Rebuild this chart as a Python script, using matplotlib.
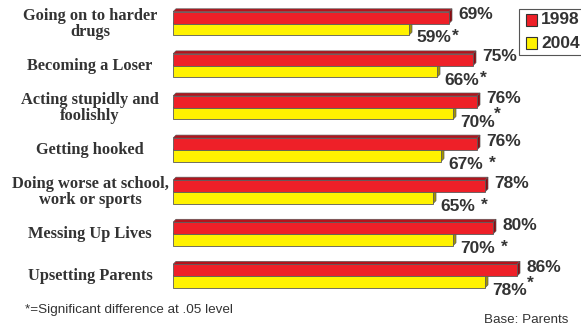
import matplotlib
matplotlib.use("Agg")
import matplotlib.pyplot as plt
from matplotlib.patches import Polygon, Rectangle

categories = [
    "Going on to harder\ndrugs",
    "Becoming a Loser",
    "Acting stupidly and\nfoolishly",
    "Getting hooked",
    "Doing worse at school,\nwork or sports",
    "Messing Up Lives",
    "Upsetting Parents",
]
values_1998 = [69, 75, 76, 76, 78, 80, 86]
values_2004 = [59, 66, 70, 67, 65, 70, 78]
# how the significance star follows each 2004 label
star_style = ["tight", "tight", "raised", "spaced", "spaced", "spaced", "super"]
series_names = ["1998", "2004"]

RED, RED_TOP, RED_SIDE = "#ee2028", "#b5121b", "#8e0a10"
YEL, YEL_TOP, YEL_SIDE = "#fff200", "#c9be00", "#a39500"
EDGE = "#5a5a5a"
TXT = "#333333"

W, H = 581, 329
fig = plt.figure(figsize=(W / 100, H / 100), dpi=100)
fig.patch.set_facecolor("white")

# axes: 0 % sits at x=173px, 4 px per percent; group rows 42.1 px apart
x0_px, px_per = 173, 4.0
row0_px, row_px = 23.5, 42.1
ax = fig.add_axes([x0_px / W, 0, 100 * px_per / W, 1])
ax.set_xlim(0, 100)
ax.set_ylim((H - row0_px) / row_px, -row0_px / row_px)
ax.axis("off")

bh = 11.7 / row_px          # bar thickness in row units
dx = 3 / px_per             # 3-D depth, horizontal
dy = 3 / row_px             # 3-D depth, vertical


def bar3d(y_top, val, face, top, side):
    ax.barh(y_top, val, height=bh, align="edge", color=face,
            edgecolor=EDGE, linewidth=0.6, zorder=3)
    # top face
    ax.add_patch(Polygon([(0, y_top), (dx, y_top - dy), (val + dx, y_top - dy), (val, y_top)],
                         closed=True, facecolor=top, edgecolor=EDGE, linewidth=0.5, zorder=2))
    # right side face
    ax.add_patch(Polygon([(val, y_top), (val + dx, y_top - dy), (val + dx, y_top + bh - dy), (val, y_top + bh)],
                         closed=True, facecolor=side, edgecolor=EDGE, linewidth=0.5, zorder=2))


lab_font = dict(family="Liberation Sans", weight="bold", size=12.5, color=TXT)
star_offsets = {"tight": (0.5, 1), "spaced": (4, 1), "raised": (-1, 6), "super": (0, 5)}

for i, (v98, v04, st) in enumerate(zip(values_1998, values_2004, star_style)):
    bar3d(i - bh, v98, RED, RED_TOP, RED_SIDE)
    bar3d(i, v04, YEL, YEL_TOP, YEL_SIDE)

    # value labels
    ax.text(v98 + dx + 1.6, i - bh * 0.75, f"{v98}%", ha="left", va="center", **lab_font)
    t = ax.annotate(f"{v04}%", (v04 + dx, i + bh), xytext=(3, -2), textcoords="offset points",
                    ha="left", va="center", **lab_font)
    ax.annotate("*", xy=(1, 0.5), xycoords=t, xytext=star_offsets[st], textcoords="offset points",
                ha="left", va="center", **lab_font)

# category labels
for i, c in enumerate(categories):
    ypx = row0_px + row_px * i
    fig.text(90 / W, 1 - ypx / H, c, ha="center", va="center", family="Liberation Serif",
             weight="bold", size=11.8, color=TXT, linespacing=1.0)

# legend box
fig.patches.append(Rectangle((519 / W, 1 - 55 / H), 70 / W, 46 / H, transform=fig.transFigure,
                             facecolor="white", edgecolor="#555555", linewidth=0.8))
for k, (name, col) in enumerate(zip(series_names, [RED, YEL])):
    cy = 20 + 23 * k
    fig.patches.append(Rectangle((526 / W, 1 - (cy + 5.5) / H), 11 / W, 11 / H,
                                 transform=fig.transFigure, facecolor=col,
                                 edgecolor="#333333", linewidth=0.8))
    fig.text(541 / W, 1 - cy / H, name, ha="left", va="center", **lab_font)

fig.text(25 / W, 1 - 310 / H, "*=Significant difference at .05 level", ha="left", va="center",
         family="Liberation Sans", size=9.7, color=TXT)
fig.text(568 / W, 1 - 320 / H, "Base: Parents", ha="right", va="center",
         family="Liberation Sans", size=9.6, color=TXT)

fig.savefig("out.png", dpi=100)
